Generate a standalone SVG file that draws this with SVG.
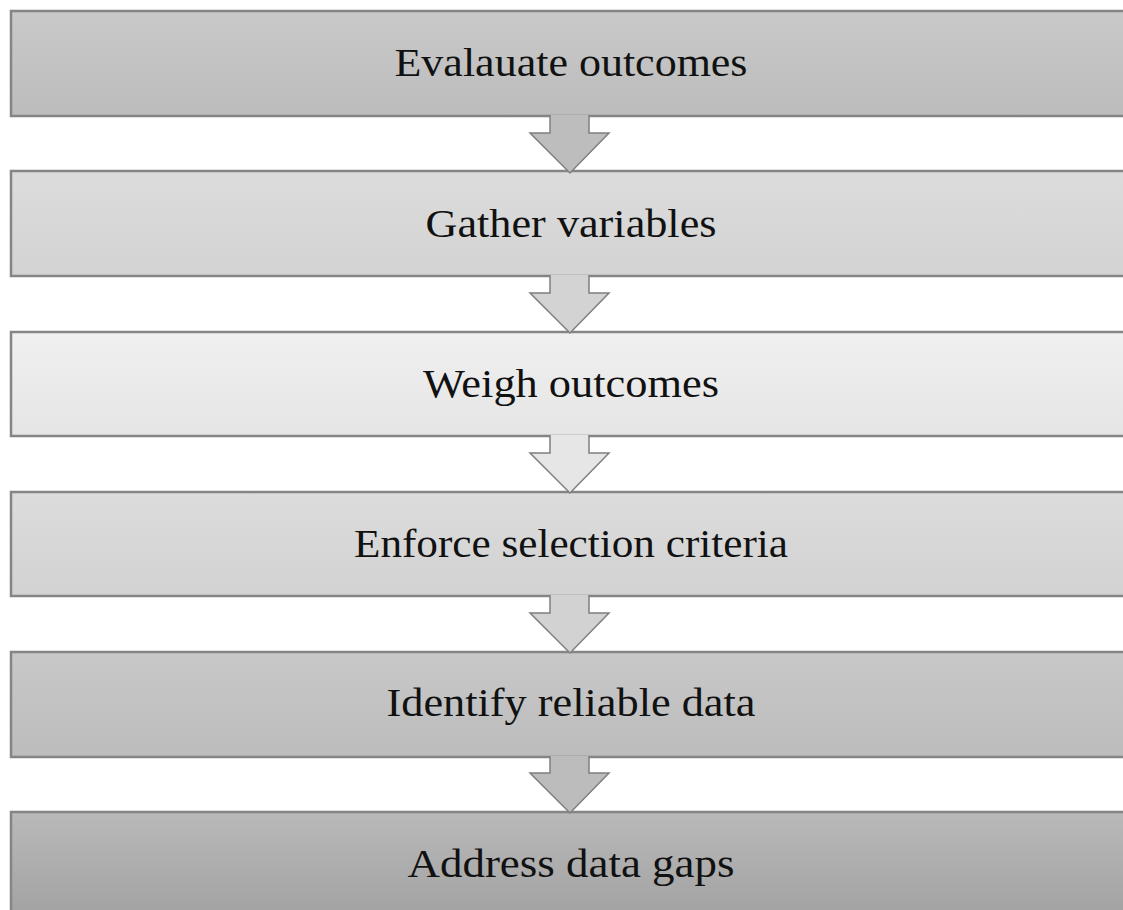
<svg xmlns="http://www.w3.org/2000/svg" width="1123" height="910" viewBox="0 0 1123 910">
<defs>
<linearGradient id="g1" x1="0" y1="0" x2="0" y2="1"><stop offset="0" stop-color="#c9c9c9"/><stop offset="1" stop-color="#bcbcbc"/></linearGradient>
<linearGradient id="g2" x1="0" y1="0" x2="0" y2="1"><stop offset="0" stop-color="#dcdcdc"/><stop offset="1" stop-color="#d3d3d3"/></linearGradient>
<linearGradient id="g3" x1="0" y1="0" x2="0" y2="1"><stop offset="0" stop-color="#f0f0f0"/><stop offset="1" stop-color="#e5e5e5"/></linearGradient>
<linearGradient id="g4" x1="0" y1="0" x2="0" y2="1"><stop offset="0" stop-color="#dcdcdc"/><stop offset="1" stop-color="#d2d2d2"/></linearGradient>
<linearGradient id="g5" x1="0" y1="0" x2="0" y2="1"><stop offset="0" stop-color="#c8c8c8"/><stop offset="1" stop-color="#bcbcbc"/></linearGradient>
<linearGradient id="g6" x1="0" y1="0" x2="0" y2="1"><stop offset="0" stop-color="#b9b9b9"/><stop offset="1" stop-color="#a1a1a1"/></linearGradient>
</defs>
<style>
.box{stroke:#858585;stroke-width:2.5}
.lbl{font-family:"Liberation Serif","DejaVu Serif",serif;font-size:40px;fill:#111;text-anchor:middle}
.arr{stroke:#7f7f7f;stroke-width:1.5;stroke-linejoin:miter}
</style>
<g id="node1"><rect class="box" x="11" y="11" width="1130" height="105" fill="url(#g1)"/><text class="lbl" x="571" y="76" textLength="353" lengthAdjust="spacingAndGlyphs">Evalauate outcomes</text></g>
<g id="node2"><rect class="box" x="11" y="171" width="1130" height="105" fill="url(#g2)"/><text class="lbl" x="571" y="237" textLength="291" lengthAdjust="spacingAndGlyphs">Gather variables</text></g>
<g id="node3"><rect class="box" x="11" y="332" width="1130" height="104" fill="url(#g3)"/><text class="lbl" x="571" y="397" textLength="296" lengthAdjust="spacingAndGlyphs">Weigh outcomes</text></g>
<g id="node4"><rect class="box" x="11" y="492" width="1130" height="104" fill="url(#g4)"/><text class="lbl" x="571" y="557" textLength="434" lengthAdjust="spacingAndGlyphs">Enforce selection criteria</text></g>
<g id="node5"><rect class="box" x="11" y="652" width="1130" height="105" fill="url(#g5)"/><text class="lbl" x="571" y="716" textLength="369" lengthAdjust="spacingAndGlyphs">Identify reliable data</text></g>
<g id="node6"><rect class="box" x="11" y="812" width="1130" height="110" fill="url(#g6)"/><text class="lbl" x="571" y="877" textLength="327" lengthAdjust="spacingAndGlyphs">Address data gaps</text></g>
<g id="connectors">
<path class="arr" fill="#bdbdbd" d="M550,115 V133 H530 L570,173 L609,133 H589 V115"/>
<path class="arr" fill="#d3d3d3" d="M550,275 V293 H530 L570,333 L609,293 H589 V275"/>
<path class="arr" fill="#e6e6e6" d="M550,435 V453 H530 L570,493 L609,453 H589 V435"/>
<path class="arr" fill="#d2d2d2" d="M550,595 V613 H530 L570,653 L609,613 H589 V595"/>
<path class="arr" fill="#bcbcbc" d="M550,756 V773 H530 L570,813 L609,773 H589 V756"/>
</g>
</svg>
